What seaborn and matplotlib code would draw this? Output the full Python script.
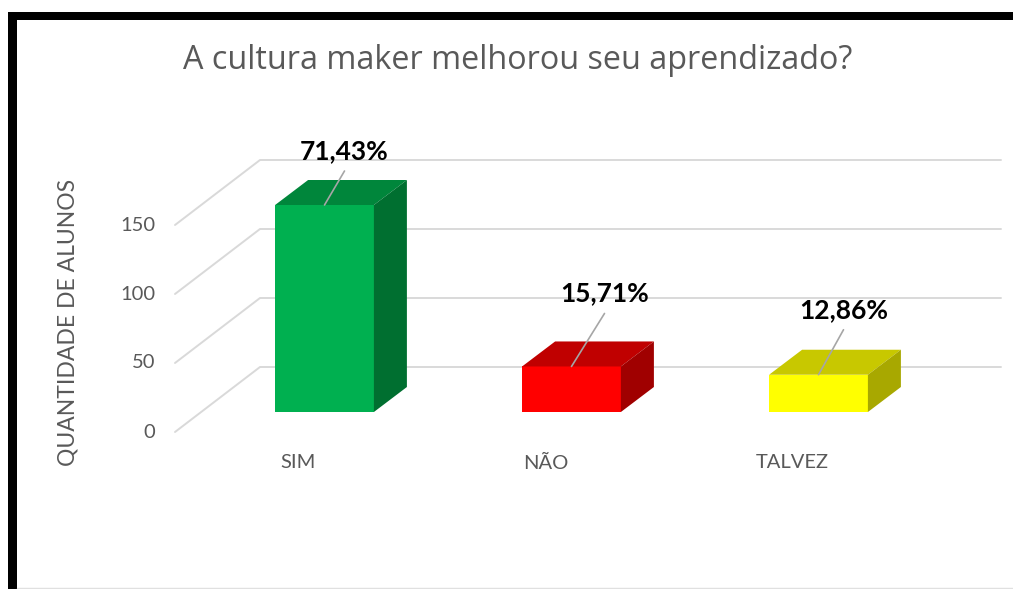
import numpy as np
import pandas as pd
import seaborn as sns
import matplotlib as mpl
from matplotlib import pyplot as plt
from matplotlib.patches import Polygon, Rectangle
from matplotlib.lines import Line2D

categories = ["SIM", "NÃO", "TALVEZ"]
alunos = [150, 33, 27]
percent_labels = ["71,43%", "15,71%", "12,86%"]
y_ticks = [0, 50, 100, 150]

FRONT = ["#00B050", "#FF0000", "#FFFF00"]
TOP = ["#00863B", "#C00000", "#C8C800"]
SIDE = ["#006F30", "#A00000", "#A8A800"]

GRID = "#D9D9D9"
TEXT = "#595959"
LEADER = "#A6A6A6"

# fake 3D: pixel offsets relative to the bar front plane
BAR_DEPTH = np.array([33, 25])
WALL = np.array([59, 45])
FLOOR_EDGE = np.array([-26, -20])

# where each % label sits relative to the bar top (pixels)
LABEL_OFFSETS = [(20, 46), (33, 65), (25, 57)]

W, H = 1013, 589

sns.set_theme(style="white")
plt.rcParams["font.family"] = ["Lato", "DejaVu Sans"]

fig = plt.figure(figsize=(W / 100, H / 100), dpi=100)
ax = fig.add_axes([201 / W, 177 / H, 741 / W, 207 / H])

df = pd.DataFrame({"resposta": categories, "alunos": alunos})
sns.barplot(
    data=df,
    x="resposta",
    y="alunos",
    hue="resposta",
    palette=FRONT,
    saturation=1,
    width=0.4,
    legend=False,
    linewidth=0,
    zorder=3,
    ax=ax,
)
ax.set_xlim(-0.5, 2.5)
ax.set_ylim(0, 150)
ax.set_axis_off()

ident = mpl.transforms.IdentityTransform()
to_px = ax.transData.transform

# back wall + diagonal gridlines
for t in y_ticks:
    left = to_px((-0.5, t))
    right = to_px((2.5, t))
    p0 = left + FLOOR_EDGE
    p1 = left + WALL
    p2 = right + WALL
    ax.add_line(Line2D([p0[0], p1[0], p2[0]], [p0[1], p1[1], p2[1]],
                       transform=ident, color=GRID, lw=1.4, zorder=1, clip_on=False))
    ax.annotate(str(t), xy=(-0.5, t), xytext=FLOOR_EDGE + np.array([-20, 0]),
                textcoords="offset pixels", ha="right", va="center",
                fontsize=14.5, color=TEXT, annotation_clip=False)

# top and side faces of the bars
for i, bar in enumerate(ax.patches):
    x0, x1 = bar.get_x(), bar.get_x() + bar.get_width()
    h = bar.get_height()
    tl, tr, br = to_px((x0, h)), to_px((x1, h)), to_px((x1, 0))
    top = [tl, tr, tr + BAR_DEPTH, tl + BAR_DEPTH]
    side = [br, tr, tr + BAR_DEPTH, br + BAR_DEPTH]
    ax.add_patch(Polygon(top, closed=True, transform=ident, facecolor=TOP[i],
                         edgecolor="none", zorder=4, clip_on=False))
    ax.add_patch(Polygon(side, closed=True, transform=ident, facecolor=SIDE[i],
                         edgecolor="none", zorder=4, clip_on=False))

    cx = x0 + bar.get_width() / 2
    dx, dy = LABEL_OFFSETS[i]
    ax.annotate("", xy=(cx, h), xytext=(dx, dy - 12), textcoords="offset pixels",
                arrowprops=dict(arrowstyle="-", color=LEADER, lw=1.2, shrinkA=0, shrinkB=0),
                zorder=5, annotation_clip=False)
    ax.annotate(percent_labels[i], xy=(cx, h), xytext=(dx, dy), textcoords="offset pixels",
                ha="center", va="baseline", fontsize=19, fontweight="bold",
                color="black", zorder=6, annotation_clip=False)

    ax.annotate(categories[i], xy=(cx, 0), xytext=(-26, -51), textcoords="offset pixels",
                ha="center", va="center", fontsize=14.5, color=TEXT, annotation_clip=False)

fig.text(68 / W, 1 - 322 / H, "QUANTIDADE DE ALUNOS", rotation=90,
         ha="center", va="center", fontsize=16.5, color=TEXT,
         family=["Lato", "DejaVu Sans"])
fig.text(518 / W, 1 - 69 / H, "A cultura maker melhorou seu aprendizado?",
         ha="center", va="baseline", fontsize=23.3, color=TEXT,
         family=["Open Sans", "DejaVu Sans"])

# frame of the original screenshot
fig.add_artist(Rectangle((8 / W, 1 - 19.5 / H), 1, 7.5 / H, transform=fig.transFigure,
                         facecolor="black", edgecolor="none"))
fig.add_artist(Rectangle((8 / W, 0), 9 / W, 1 - 12 / H, transform=fig.transFigure,
                         facecolor="black", edgecolor="none"))
fig.add_artist(Line2D([17 / W, 1], [1.5 / H, 1.5 / H], transform=fig.transFigure,
                      color="#E0E0E0", lw=1))

fig.savefig("out.png", dpi=100)
